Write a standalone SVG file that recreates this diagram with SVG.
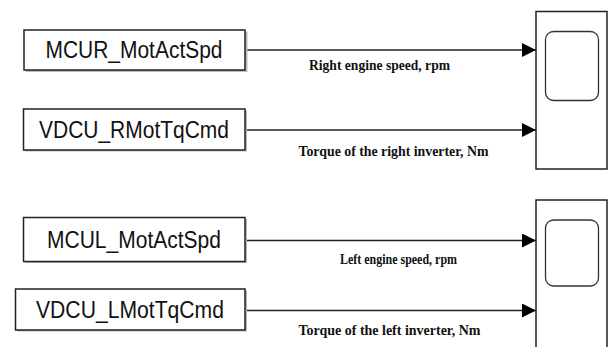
<svg xmlns="http://www.w3.org/2000/svg" width="609" height="347" viewBox="0 0 609 347">
<style>
.box{fill:#fff;stroke:#222;stroke-width:1.5}
.shadow{fill:#bbb}
.bt{font-family:"Liberation Sans",Arial,sans-serif;font-size:23px;fill:#111}
.lbl{font-family:"Liberation Serif","Times New Roman",serif;font-size:14.5px;font-weight:bold;fill:#111}
.wire{stroke:#222;stroke-width:1.3;fill:none}
.scope{fill:#fff;stroke:#222;stroke-width:1.5}
.screen{fill:#fff;stroke:#333;stroke-width:1.3}
</style>
<defs>
<marker id="arr" markerWidth="14" markerHeight="14" refX="14" refY="7" orient="auto" markerUnits="userSpaceOnUse">
<path d="M0,0 L14,7 L0,14 Z" fill="#000"/>
</marker>
</defs>
<rect width="609" height="347" fill="#fff"/>
<g id="connectors">
<line class="wire" x1="245" y1="50" x2="536" y2="50" marker-end="url(#arr)"/>
<line class="wire" x1="245" y1="130" x2="536" y2="130" marker-end="url(#arr)"/>
<line class="wire" x1="245" y1="240.5" x2="536" y2="240.5" marker-end="url(#arr)"/>
<line class="wire" x1="245" y1="310.5" x2="536" y2="310.5" marker-end="url(#arr)"/>
<text class="lbl" x="309" y="69.5" textLength="141" lengthAdjust="spacingAndGlyphs">Right engine speed, rpm</text>
<text class="lbl" x="298.5" y="155.5" textLength="190" lengthAdjust="spacingAndGlyphs">Torque of the right inverter, Nm</text>
<text class="lbl" x="340" y="263.5" textLength="117" lengthAdjust="spacingAndGlyphs">Left engine speed, rpm</text>
<text class="lbl" x="298.5" y="334.5" textLength="182" lengthAdjust="spacingAndGlyphs">Torque of the left inverter, Nm</text>
</g>
<g id="MCUR_MotActSpd">
<rect class="shadow" x="25.5" y="31.5" width="222" height="40.5"/>
<rect class="box" x="24" y="30" width="221" height="40"/>
<text class="bt" x="134" y="58" text-anchor="middle" textLength="177" lengthAdjust="spacingAndGlyphs">MCUR_MotActSpd</text>
</g>
<g id="VDCU_RMotTqCmd">
<rect class="shadow" x="25" y="110.5" width="222" height="41"/>
<rect class="box" x="23.5" y="109" width="221.5" height="41"/>
<text class="bt" x="134" y="138" text-anchor="middle" textLength="190" lengthAdjust="spacingAndGlyphs">VDCU_RMotTqCmd</text>
</g>
<g id="MCUL_MotActSpd">
<rect class="shadow" x="25" y="219" width="222" height="44"/>
<rect class="box" x="23.5" y="217.5" width="221.5" height="44"/>
<text class="bt" x="134" y="248" text-anchor="middle" textLength="174" lengthAdjust="spacingAndGlyphs">MCUL_MotActSpd</text>
</g>
<g id="VDCU_LMotTqCmd">
<rect class="shadow" x="17" y="290.5" width="230" height="41"/>
<rect class="box" x="15.5" y="289" width="229.5" height="41"/>
<text class="bt" x="130" y="318" text-anchor="middle" textLength="188" lengthAdjust="spacingAndGlyphs">VDCU_LMotTqCmd</text>
</g>
<g id="scope_right">
<rect class="scope" x="536" y="11.5" width="71" height="157.5"/>
<rect class="screen" x="545.5" y="31.5" width="53" height="69" rx="8"/>
</g>
<g id="scope_left">
<rect class="scope" x="536" y="200" width="71" height="160"/>
<rect class="screen" x="545.5" y="220" width="53" height="66" rx="8"/>
</g>
</svg>
